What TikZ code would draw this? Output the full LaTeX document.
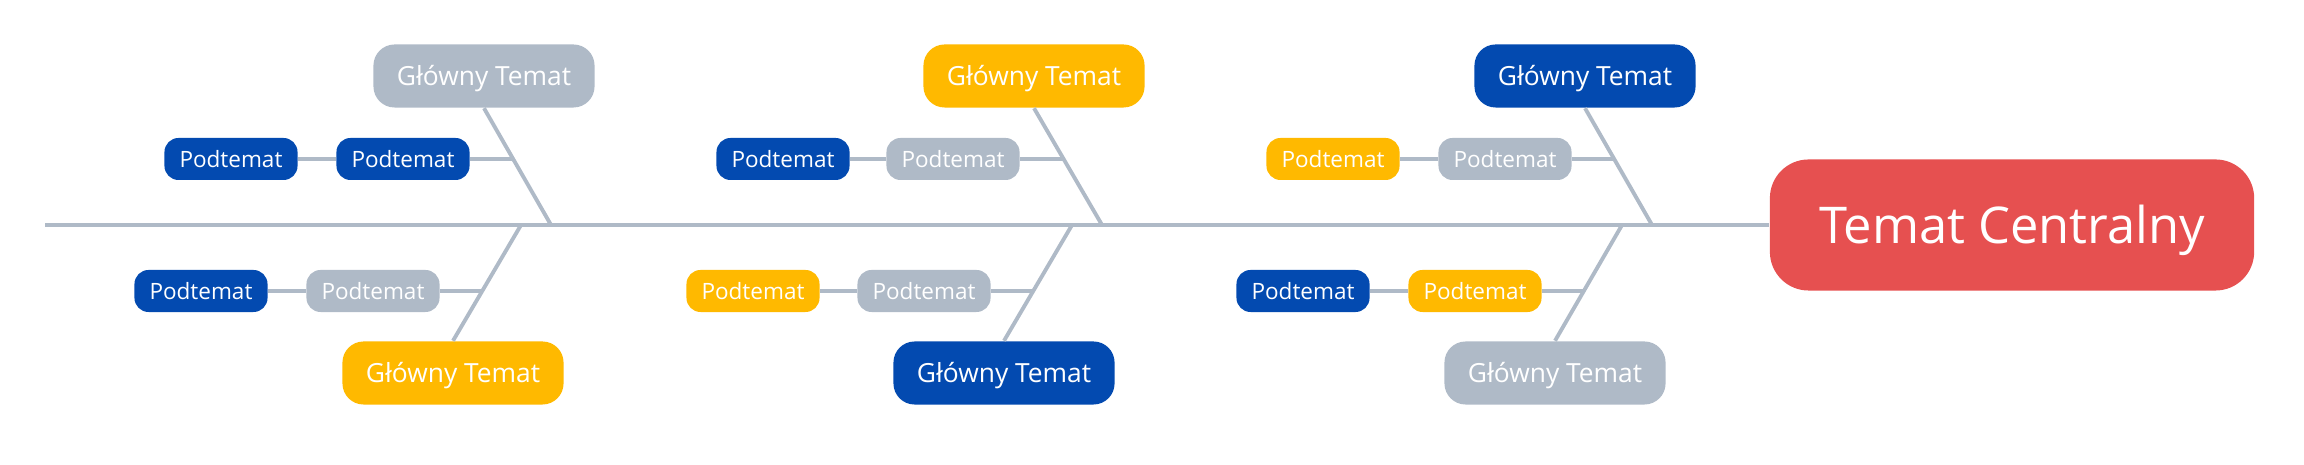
\documentclass[tikz,border=0pt]{standalone}
\usepackage{fontspec}
\setmainfont{Open Sans}
\usepackage{tikz}
\usetikzlibrary{positioning}
\definecolor{fishgrey}{RGB}{175,186,199}
\definecolor{fishblue}{RGB}{3,74,176}
\definecolor{fishyellow}{RGB}{255,185,0}
\definecolor{fishred}{RGB}{230,80,80}

\tikzset{
  maintopic/.style={rounded corners=6pt,text=white,inner sep=0pt,
    minimum width=2.21cm,minimum height=0.63cm,text height=5.4pt,text depth=0pt,
    font=\fontsize{7.5}{8}\selectfont},
  subtopic/.style={rounded corners=4pt,text=white,inner sep=0pt,
    minimum width=1.33cm,minimum height=0.42cm,text height=4.6pt,text depth=0pt,
    font=\fontsize{6.4}{7}\selectfont},
  headtopic/.style={rounded corners=11pt,fill=fishred,text=white,inner sep=0pt,
    minimum width=4.84cm,minimum height=1.31cm,text height=10.4pt,text depth=0pt,
    font=\fontsize{14.4}{16}\selectfont},
  spine/.style={draw=fishgrey,line width=1.4pt},
  bone/.style={draw=fishgrey,line width=1.1pt}
}

\begin{document}
\begin{tikzpicture}[x=0.01cm,y=-0.01cm]
  \useasboundingbox (0,0) rectangle (2304,465);

  % head and spine
  \node[headtopic] (head) at (2012,225) {Temat Centralny};
  \coordinate (tail) at (45,225);
  \draw[spine] (tail) -- (head.west);

  % junctions on the spine
  \coordinate (j1) at (551,225);  \coordinate (k1) at (521,225);
  \coordinate (j2) at (1102,225); \coordinate (k2) at (1072,225);
  \coordinate (j3) at (1652,225); \coordinate (k3) at (1622,225);

  % main topics
  \node[maintopic,fill=fishgrey]   (m1) at (484,76)   {Główny Temat};
  \node[maintopic,fill=fishyellow] (m2) at (453,373)  {Główny Temat};
  \node[maintopic,fill=fishyellow] (m3) at (1034,76)  {Główny Temat};
  \node[maintopic,fill=fishblue]   (m4) at (1004,373) {Główny Temat};
  \node[maintopic,fill=fishblue]   (m5) at (1585,76)  {Główny Temat};
  \node[maintopic,fill=fishgrey]   (m6) at (1555,373) {Główny Temat};

  \draw[bone] (m1.south) -- (j1);
  \draw[bone] (m2.north) -- (k1);
  \draw[bone] (m3.south) -- (j2);
  \draw[bone] (m4.north) -- (k2);
  \draw[bone] (m5.south) -- (j3);
  \draw[bone] (m6.north) -- (k3);

  % points on the bones
  \coordinate (b1) at (513,159);  \coordinate (b2) at (483,291);
  \coordinate (b3) at (1063,159); \coordinate (b4) at (1034,291);
  \coordinate (b5) at (1614,159); \coordinate (b6) at (1584,291);

  % sub topics
  \node[subtopic,fill=fishblue]   (s1b) at (403,159)  {Podtemat};
  \node[subtopic,fill=fishblue]   (s1a) at (231,159)  {Podtemat};
  \node[subtopic,fill=fishgrey]   (s2b) at (373,291)  {Podtemat};
  \node[subtopic,fill=fishblue]   (s2a) at (201,291)  {Podtemat};
  \node[subtopic,fill=fishgrey]   (s3b) at (953,159)  {Podtemat};
  \node[subtopic,fill=fishblue]   (s3a) at (783,159)  {Podtemat};
  \node[subtopic,fill=fishgrey]   (s4b) at (924,291)  {Podtemat};
  \node[subtopic,fill=fishyellow] (s4a) at (753,291)  {Podtemat};
  \node[subtopic,fill=fishgrey]   (s5b) at (1505,159) {Podtemat};
  \node[subtopic,fill=fishyellow] (s5a) at (1333,159) {Podtemat};
  \node[subtopic,fill=fishyellow] (s6b) at (1475,291) {Podtemat};
  \node[subtopic,fill=fishblue]   (s6a) at (1303,291) {Podtemat};

  \draw[bone] (s1a) -- (s1b) -- (b1);
  \draw[bone] (s2a) -- (s2b) -- (b2);
  \draw[bone] (s3a) -- (s3b) -- (b3);
  \draw[bone] (s4a) -- (s4b) -- (b4);
  \draw[bone] (s5a) -- (s5b) -- (b5);
  \draw[bone] (s6a) -- (s6b) -- (b6);
\end{tikzpicture}
\end{document}
